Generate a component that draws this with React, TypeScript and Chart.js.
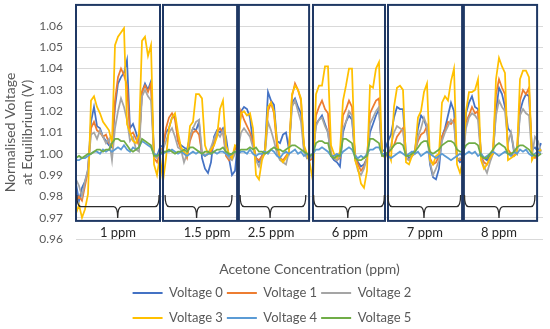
import React, { useEffect, useRef } from 'react';
import { Chart, registerables } from 'chart.js';

Chart.register(...registerables);

// ---------- data ----------
const seriesNames = ['Voltage 0', 'Voltage 1', 'Voltage 2', 'Voltage 3', 'Voltage 4', 'Voltage 5'];
const seriesColors = ['#4472c4', '#ed7d31', '#a5a5a5', '#ffc000', '#5b9bd5', '#70ad47'];

const voltage0 = [
  0.986,0.978,0.984,0.987,0.992,1.015,1.022,1.013,1.012,1.008,1.006,1.004,1.003,1.022,1.033,1.036,1.038,1.044,1.012,1.014,1.010,1.005,1.029,1.033,1.030,1.034,1.000,0.999,1.003,
  1.004,1.010,1.012,1.017,1.018,1.006,1.004,1.003,1.002,1.008,1.012,1.011,1.015,0.998,0.993,0.991,0.996,1.008,1.011,1.010,1.012,1.008,0.998,0.990,0.992,
  1.006,1.020,1.022,1.021,1.017,1.005,0.998,0.996,0.999,1.002,1.029,1.025,1.023,1.006,1.005,1.009,1.010,1.002,1.024,1.026,1.022,1.019,1.003,0.998,
  0.999,1.000,1.014,1.016,1.018,1.014,1.010,0.999,0.997,0.996,0.994,1.010,1.015,1.018,1.016,1.000,0.996,0.994,0.995,0.998,1.010,1.014,1.018,1.021,1.001,1.002,
  1.006,1.009,1.017,1.022,1.021,1.021,1.000,0.998,0.999,1.002,1.012,1.018,1.016,1.012,0.995,0.989,0.988,0.993,1.008,1.012,1.018,1.024,1.020,0.998,0.996,
  0.997,1.019,1.024,1.027,1.022,1.021,1.000,0.998,0.997,0.999,1.000,1.020,1.031,1.028,1.022,1.012,1.010,1.001,1.000,1.020,1.025,1.028,1.027,1.002,1.003,1.001,1.005,
];
const voltage1 = [
  0.978,0.980,0.978,0.985,0.992,1.012,1.015,1.011,1.010,1.008,1.009,1.005,1.004,1.025,1.036,1.040,1.037,1.032,1.009,1.010,1.007,1.004,1.029,1.032,1.029,1.033,0.998,0.996,1.001,
  1.003,1.012,1.017,1.019,1.016,1.006,1.002,1.001,0.998,1.006,1.010,1.011,1.009,1.000,0.999,1.000,1.001,1.004,1.010,1.012,1.010,0.999,0.997,0.999,1.002,
  1.005,1.020,1.016,1.013,1.010,1.005,0.998,0.997,0.999,1.001,1.020,1.024,1.019,1.003,0.998,0.997,0.999,1.001,1.027,1.033,1.030,1.025,1.002,0.999,
  0.997,0.998,1.018,1.022,1.025,1.021,1.019,1.000,0.998,0.997,0.998,1.018,1.021,1.025,1.022,0.999,0.995,0.992,0.994,0.998,1.019,1.022,1.025,1.026,1.000,0.999,
  1.000,1.002,1.004,1.008,1.010,1.012,0.998,0.997,0.999,1.001,1.006,1.009,1.010,1.013,0.998,0.995,0.996,0.999,1.008,1.011,1.015,1.014,1.016,0.998,0.997,
  0.998,1.015,1.018,1.022,1.019,1.020,0.999,0.996,0.995,0.998,1.001,1.028,1.035,1.031,1.028,1.002,1.000,0.999,1.001,1.025,1.030,1.028,1.031,0.999,0.998,1.000,1.002,
];
const voltage2 = [
  0.988,0.985,0.980,0.987,0.993,1.009,1.010,1.007,1.011,1.008,1.005,1.007,0.997,1.012,1.020,1.026,1.022,1.016,1.006,1.008,1.002,1.001,1.027,1.030,1.027,1.025,0.999,0.998,1.001,
  1.002,1.006,1.010,1.012,1.008,1.003,1.002,0.996,1.000,1.008,1.012,1.015,1.016,1.001,0.999,1.000,1.003,1.007,1.010,1.008,1.011,1.000,0.998,0.997,1.000,
  1.002,1.010,1.012,1.010,1.008,1.003,0.997,0.994,0.998,1.000,1.015,1.011,1.006,1.000,0.997,0.996,0.995,1.001,1.022,1.025,1.020,1.015,1.001,0.998,
  0.998,0.999,1.013,1.016,1.017,1.013,1.010,0.999,0.998,0.997,0.999,1.012,1.015,1.020,1.018,0.998,0.992,0.990,0.993,0.998,1.014,1.017,1.020,1.022,0.999,0.999,
  1.001,1.004,1.010,1.013,1.012,1.011,0.998,0.997,0.999,1.000,1.008,1.012,1.017,1.013,0.996,0.990,0.993,0.997,1.006,1.010,1.013,1.016,1.014,0.997,0.998,
  0.998,1.012,1.017,1.019,1.018,1.016,0.998,0.994,0.991,0.996,1.000,1.018,1.025,1.022,1.020,1.005,1.010,1.002,1.000,1.018,1.021,1.019,1.018,0.999,1.008,1.006,1.001,
];
const voltage3 = [
  0.972,0.976,0.970,0.974,0.981,1.025,1.027,1.022,1.019,1.015,1.013,1.011,1.005,1.051,1.055,1.057,1.059,1.014,1.010,1.006,1.005,1.009,1.053,1.055,1.046,1.051,0.995,0.990,0.999,
  0.987,0.998,1.012,1.017,1.019,1.010,1.003,1.001,0.999,1.013,1.015,1.028,1.028,1.026,1.004,1.000,1.002,1.004,1.008,1.021,1.025,1.004,1.000,0.998,1.004,
  1.003,1.019,1.020,1.018,1.019,1.012,0.990,0.988,0.997,1.001,1.022,1.024,1.020,1.006,0.998,0.996,0.998,1.001,1.028,1.032,1.030,1.026,1.004,1.000,
  0.995,0.987,1.028,1.032,1.032,1.041,1.041,1.004,1.000,0.998,1.001,1.025,1.032,1.040,1.040,0.997,0.993,0.986,0.984,0.992,1.032,1.031,1.040,1.043,1.000,0.998,
  1.001,0.997,1.022,1.031,1.032,1.030,0.996,0.995,0.999,1.001,1.017,1.020,1.029,1.033,0.997,0.995,0.999,1.000,1.024,1.027,1.025,1.034,1.040,0.995,0.991,
  0.997,1.020,1.029,1.029,1.030,1.035,0.997,0.993,0.995,0.998,1.000,1.035,1.045,1.041,1.038,0.997,0.998,0.999,1.000,1.035,1.039,1.039,1.036,0.997,1.000,1.001,1.002,
];
const voltage4 = [
  0.997,0.997,0.998,0.998,0.999,1.000,1.001,1.001,1.000,1.002,1.001,1.002,1.001,1.002,1.003,1.002,1.004,1.002,1.001,1.003,1.002,1.003,1.006,1.005,1.004,1.003,1.000,0.999,1.000,
  1.000,1.001,1.001,1.002,1.001,1.000,1.001,1.000,0.999,1.000,1.001,1.000,1.001,1.000,0.999,1.000,1.000,1.001,1.000,1.001,1.001,1.000,0.999,1.000,1.001,
  1.000,1.001,1.001,1.000,1.002,1.000,0.999,1.000,1.000,1.001,1.000,1.002,1.001,0.999,0.998,1.000,1.001,1.000,1.001,1.002,1.000,1.001,0.999,1.000,
  0.999,1.000,1.002,1.002,1.003,1.002,1.001,0.999,0.999,1.000,0.999,1.001,1.002,1.003,1.002,0.999,0.998,0.999,0.998,1.000,1.002,1.002,1.003,1.003,1.000,1.000,
  0.999,0.998,0.999,1.000,1.001,1.000,0.999,1.000,1.001,1.000,1.001,0.999,1.000,1.001,1.000,0.999,0.998,0.999,1.000,0.999,0.998,0.997,0.998,0.999,1.000,
  0.999,1.000,1.001,1.000,1.001,0.999,1.000,0.998,0.999,1.000,1.001,1.000,0.999,1.000,1.001,1.000,0.999,1.001,1.000,1.002,1.001,1.002,1.000,0.999,1.000,1.001,1.000,
];
const voltage5 = [
  0.998,0.999,0.998,0.999,1.000,1.000,1.001,1.002,1.002,1.001,1.002,1.002,1.005,1.007,1.007,1.006,1.006,1.004,1.002,1.001,1.002,1.003,1.007,1.006,1.005,1.004,0.999,0.999,1.000,
  1.001,1.001,1.002,1.001,1.000,1.001,1.001,1.002,1.001,1.003,1.003,1.002,1.001,1.000,1.001,1.001,1.000,1.001,1.002,1.002,1.003,1.001,1.000,1.000,1.001,
  1.001,1.002,1.002,1.002,1.003,1.002,1.003,1.001,1.001,1.000,1.001,1.002,1.003,1.002,1.002,1.001,1.002,1.003,1.004,1.004,1.003,1.002,1.001,1.000,
  0.999,1.000,1.005,1.006,1.006,1.005,1.005,0.999,0.998,0.999,0.999,1.007,1.007,1.006,1.005,0.998,0.997,0.997,0.998,0.999,1.007,1.007,1.006,1.005,0.999,0.999,
  1.001,1.002,1.004,1.005,1.005,1.004,0.999,0.999,1.000,1.001,1.003,1.005,1.006,1.006,1.001,1.000,1.001,1.002,1.004,1.005,1.006,1.006,1.005,1.002,1.001,
  1.001,1.004,1.005,1.005,1.005,1.004,0.999,0.998,0.998,1.000,1.002,1.004,1.005,1.004,1.003,1.000,1.000,1.001,1.003,1.004,1.004,1.003,1.002,1.000,0.999,0.999,1.000,
];
const seriesValues = [voltage0, voltage1, voltage2, voltage3, voltage4, voltage5];

// sample number along the x axis
const sampleIndex = voltage0.map((_, i) => i);

const yTickValues = [0.96, 0.97, 0.98, 0.99, 1.0, 1.01, 1.02, 1.03, 1.04, 1.05, 1.06];

// concentration groups (in sample-index units)
const groupLabels = ['1 ppm', '1.5 ppm', '2.5 ppm', '6 ppm', '7 ppm', '8 ppm'];
const groupBoxStart = [0, 29, 54.3, 79, 104, 129.3];
const groupBoxEnd = [28, 53.7, 77.7, 103, 128.7, 153.7];
const braceStart = [0.3, 29.7, 54.7, 79.2, 104, 129.5];
const braceEnd = [27.7, 52, 76.6, 102.8, 128.2, 153];
const braceTip = [13.9, 40.2, 64.7, 90.6, 116, 141];
const labelPos = [14, 43.7, 65, 91.3, 116.3, 141];
const boxTopValue = 1.0699;
const boxBottomValue = 0.9685;
const braceTopValue = 0.9807;
const braceMidValue = 0.9752;
const braceTipValue = 0.9699;
const labelValue = 0.9628;

const FONT = 'Lato, "Open Sans", sans-serif';

const groupPlugin = {
  id: 'groups',
  afterDatasetsDraw(chart: any) {
    const { ctx } = chart;
    const x = chart.scales.x;
    const y = chart.scales.y;
    ctx.save();
    // boxes
    ctx.strokeStyle = '#1f3864';
    ctx.lineWidth = 2;
    const yT = y.getPixelForValue(boxTopValue);
    const yB = y.getPixelForValue(boxBottomValue);
    groupBoxStart.forEach((s, i) => {
      const x0 = x.getPixelForValue(s);
      const x1 = x.getPixelForValue(groupBoxEnd[i]);
      ctx.strokeRect(x0, yT, x1 - x0, yB - yT);
    });
    // braces
    ctx.strokeStyle = '#2b2b2b';
    ctx.lineWidth = 1.3;
    const bTop = y.getPixelForValue(braceTopValue);
    const bMid = y.getPixelForValue(braceMidValue);
    const bTip = y.getPixelForValue(braceTipValue);
    const r = 4;
    braceStart.forEach((s, i) => {
      const xl = x.getPixelForValue(s);
      const xr = x.getPixelForValue(braceEnd[i]);
      const xt = x.getPixelForValue(braceTip[i]);
      ctx.beginPath();
      ctx.moveTo(xl, bTop);
      ctx.quadraticCurveTo(xl, bMid, xl + r, bMid);
      ctx.lineTo(xt - r, bMid);
      ctx.quadraticCurveTo(xt, bMid, xt, bTip);
      ctx.quadraticCurveTo(xt, bMid, xt + r, bMid);
      ctx.lineTo(xr - r, bMid);
      ctx.quadraticCurveTo(xr, bMid, xr, bTop);
      ctx.stroke();
    });
    // group labels
    ctx.fillStyle = '#262626';
    ctx.font = `13px ${FONT}`;
    ctx.textAlign = 'center';
    ctx.textBaseline = 'middle';
    const ly = y.getPixelForValue(labelValue);
    groupLabels.forEach((t, i) => {
      ctx.fillText(t, x.getPixelForValue(labelPos[i]), ly);
    });
    ctx.restore();
  },
};

const legendPlugin = {
  id: 'lineLegend',
  afterDraw(chart: any) {
    const { ctx } = chart;
    const ds = chart.data.datasets;
    ctx.save();
    ctx.font = `13px ${FONT}`;
    ctx.textBaseline = 'middle';
    ctx.textAlign = 'left';
    const lineLen = 30;
    const gapText = 6.5;
    const gapItem = 4;
    const rows = [ds.slice(0, 3), ds.slice(3, 6)];
    rows.forEach((row: any[], r: number) => {
      const widths = row.map((d) => lineLen + gapText + ctx.measureText(d.label).width);
      const total = widths.reduce((a, b) => a + b, 0) + gapItem * (row.length - 1);
      let px = chart.width / 2 - 3 - total / 2;
      const py = chart.height - 36 + r * 25;
      row.forEach((d, i) => {
        ctx.strokeStyle = d.borderColor;
        ctx.lineWidth = 2;
        ctx.beginPath();
        ctx.moveTo(px, py);
        ctx.lineTo(px + lineLen, py);
        ctx.stroke();
        ctx.fillStyle = '#595959';
        ctx.fillText(d.label, px + lineLen + gapText, py);
        px += widths[i] + gapItem;
      });
    });
    ctx.restore();
  },
};

export default function App() {
  const canvasRef = useRef<HTMLCanvasElement | null>(null);

  useEffect(() => {
    if (!canvasRef.current) return;
    const chart = new Chart(canvasRef.current, {
      type: 'line',
      data: {
        labels: sampleIndex,
        datasets: seriesValues.map((vals, i) => ({
          label: seriesNames[i],
          data: vals,
          borderColor: seriesColors[i],
          backgroundColor: seriesColors[i],
          borderWidth: 1.75,
          pointRadius: 0,
          tension: 0,
          order: 5 - i,
        })),
      },
      options: {
        animation: false,
        responsive: true,
        maintainAspectRatio: false,
        layout: { padding: { top: 26, right: 7, bottom: 50, left: 0 } },
        plugins: {
          legend: { display: false },
          tooltip: { enabled: false },
        },
        scales: {
          x: {
            type: 'linear',
            min: 0,
            max: 155.67,
            grid: { display: false },
            border: { display: false },
            ticks: { display: false },
            title: {
              display: true,
              text: 'Acetone Concentration (ppm)',
              color: '#595959',
              font: { family: FONT, size: 14 },
              padding: { top: 0, bottom: 1 },
            },
            afterFit: (scale: any) => {
              scale.height = 40;
            },
          },
          y: {
            min: 0.96,
            max: 1.06,
            afterBuildTicks: (scale: any) => {
              scale.ticks = yTickValues.map((v) => ({ value: v }));
            },
            grid: { color: '#d9d9d9', drawTicks: false, lineWidth: 1 },
            border: { display: false },
            ticks: {
              color: '#595959',
              font: { family: FONT, size: 12 },
              padding: 13,
              callback: (v: any) => Number(v).toFixed(2),
            },
            title: {
              display: true,
              text: ['Normalised Voltage', 'at Equilibrium (V)'],
              color: '#595959',
              font: { family: FONT, size: 14 },
              padding: { top: 2, bottom: 0 },
            },
            afterFit: (scale: any) => {
              scale.width = 76;
            },
          },
        },
      },
      plugins: [groupPlugin, legendPlugin],
    } as any);
    return () => chart.destroy();
  }, []);

  return (
    <div style={{ position: 'fixed', left: 0, top: 0, width: 550, height: 329, background: '#fff' }}>
      <canvas ref={canvasRef} />
    </div>
  );
}
